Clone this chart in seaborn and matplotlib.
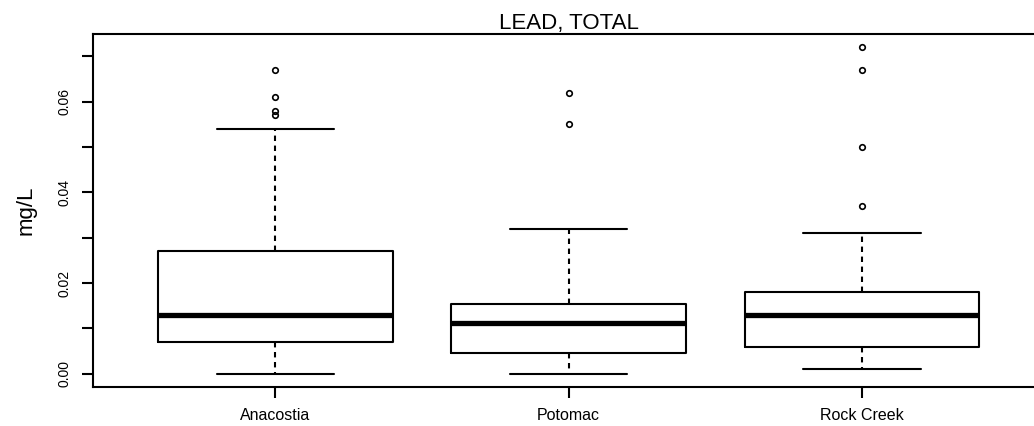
import matplotlib
matplotlib.use("Agg")
import matplotlib.pyplot as plt
import seaborn as sns

# Summary stats (mg/L)
sites = ["Anacostia", "Potomac", "Rock Creek"]
q1 = [0.0070, 0.0046, 0.0058]
median = [0.0129, 0.0111, 0.0129]
q3 = [0.0271, 0.0154, 0.0180]
whisker_lo = [0.0, 0.0, 0.001]
whisker_hi = [0.054, 0.032, 0.031]
outliers = [
    [0.057, 0.058, 0.061, 0.067],
    [0.055, 0.062],
    [0.037, 0.050, 0.067, 0.072],
]
y_ticks = [0.00, 0.01, 0.02, 0.03, 0.04, 0.05, 0.06, 0.07]
y_labels = ["0.00", "", "0.02", "", "0.04", "", "0.06", ""]

sns.set_style("ticks")
plt.rcParams["font.family"] = ["Liberation Sans", "DejaVu Sans"]
plt.rcParams["text.color"] = "black"
plt.rcParams["axes.labelcolor"] = "black"
plt.rcParams["xtick.color"] = "black"
plt.rcParams["ytick.color"] = "black"

stats = []
for i, name in enumerate(sites):
    stats.append({
        "label": name,
        "q1": q1[i], "med": median[i], "q3": q3[i],
        "whislo": whisker_lo[i], "whishi": whisker_hi[i],
        "fliers": outliers[i],
    })

fig = plt.figure(figsize=(10.34, 4.26), dpi=100)
ax = fig.add_axes([0.0903, 0.0923, 0.9191, 0.8272])

lw = 1.5
ax.bxp(stats, positions=[1, 2, 3], widths=0.8, capwidths=0.4,
       boxprops=dict(color="black", linewidth=lw),
       medianprops=dict(color="black", linewidth=3.8, solid_capstyle="butt"),
       whiskerprops=dict(color="black", linewidth=lw, linestyle=(0, (2.6, 2.2))),
       capprops=dict(color="black", linewidth=lw),
       flierprops=dict(marker="o", markersize=4, markerfacecolor="none",
                       markeredgecolor="black", markeredgewidth=1.2))

ax.set_xlim(0.38, 3.62)
ax.set_ylim(-0.00288, 0.07488)
ax.set_xticks([1, 2, 3])
ax.set_xticklabels(sites, fontsize=11.5)
ax.set_yticks(y_ticks)
ax.set_yticklabels(y_labels, fontsize=10, rotation=90, va="center")
ax.tick_params(axis="both", length=8, width=lw, color="black")
ax.tick_params(axis="x", pad=7)
ax.tick_params(axis="y", pad=8)

for s in ax.spines.values():
    s.set_linewidth(lw)
    s.set_color("black")

ax.set_ylabel("mg/L", fontsize=16)
ax.yaxis.set_label_coords(-0.06, 0.5)
ax.set_title("LEAD, TOTAL", fontsize=16, pad=3)
ax.grid(False)

fig.savefig("out.png", dpi=100)
